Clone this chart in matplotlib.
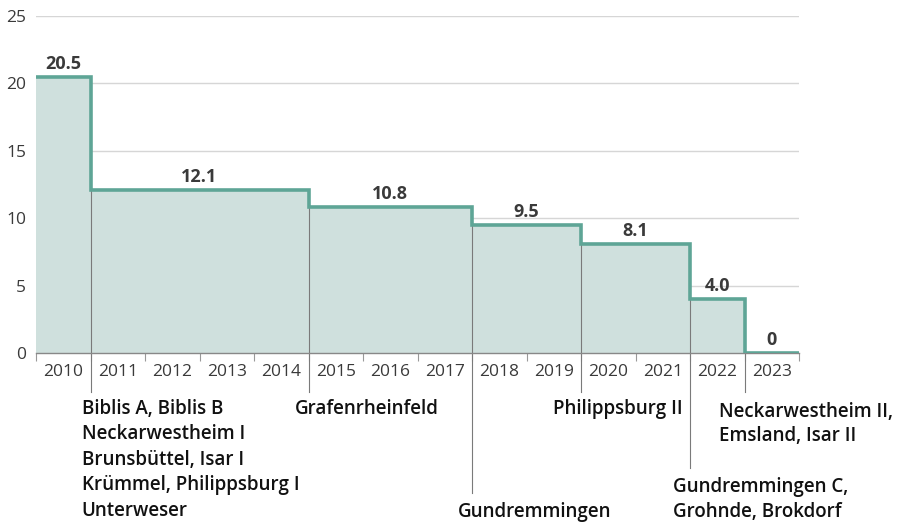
#!/usr/bin/env python3
# Step chart: Germany's nuclear power capacity (GW) by year, with shutdowns
import numpy as np
import matplotlib
matplotlib.use('Agg')
import matplotlib.pyplot as plt

plt.rcParams['font.family'] = ['Open Sans', 'DejaVu Sans']

# data
years = [2010, 2011, 2012, 2013, 2014, 2015, 2016, 2017, 2018, 2019, 2020, 2021, 2022, 2023]
capacity = [20.5, 12.1, 12.1, 12.1, 12.1, 10.8, 10.8, 10.8, 9.5, 9.5, 8.1, 8.1, 4.0, 0]
step_years = [2011, 2015, 2018, 2020, 2022, 2023]
step_labels = ['20.5', '12.1', '10.8', '9.5', '8.1', '4.0', '0']
shutdowns = [
    'Biblis A, Biblis B\nNeckarwestheim I\nBrunsbüttel, Isar I\nKrümmel, Philippsburg I\nUnterweser',
    'Grafenrheinfeld',
    'Gundremmingen',
    'Philippsburg II',
    'Gundremmingen C,\nGrohnde, Brokdorf',
    'Neckarwestheim II,\nEmsland, Isar II',
]
y_ticks = [0, 5, 10, 15, 20, 25]

LINE = '#5ea596'
FILL = '#cfe0dd'
GRID = '#d6d6d6'
TXT = '#3a3a3a'

W, H = 899, 527
fig = plt.figure(figsize=(W / 100, H / 100), dpi=100)
ax = fig.add_axes([36 / W, (H - 353) / H, (799 - 36) / W, (353 - 16) / H])

edges = np.append(years, years[-1] + 1)
ax.set_xlim(edges[0], edges[-1])
ax.set_ylim(0, 25)

# gridlines behind the area
for y in y_ticks[1:]:
    ax.axhline(y, color=GRID, lw=1, zorder=0)

ax.stairs(capacity, edges, fill=True, color=FILL, baseline=0, zorder=1)
ax.stairs(capacity, edges, baseline=None, color=LINE, lw=2.6, zorder=3)

# px -> data units on the y axis
per_px = 25 / (353 - 16)

# thin separator lines at each step, running down to the annotation
line_ends = [392, 392, 493, 392, 468, 392]
for yr, end in zip(step_years, line_ends):
    top = capacity[years.index(yr)]
    ax.plot([yr, yr], [top, -(end - 353) * per_px], color='#7a7a7a', lw=0.8,
            clip_on=False, zorder=2)

# value labels centred on each segment
seg_edges = [years[0]] + step_years + [edges[-1]]
for i, lab in enumerate(step_labels):
    xc = (seg_edges[i] + seg_edges[i + 1]) / 2
    val = capacity[years.index(seg_edges[i])]
    ax.text(xc, val + 13 * per_px, lab, ha='center', va='center', fontsize=13,
            fontweight='bold', color=TXT)

# shutdown annotations: (x, top pixel, ha, line spacing)
ann_pos = [(2010.84, 399, 'left', 1.36), (2014.75, 399, 'left', 1.3),
           (2017.74, 502, 'left', 1.3), (2021.87, 399, 'right', 1.3),
           (2021.69, 477, 'left', 1.3), (2022.53, 402, 'left', 1.3)]
for txt, (x, py, ha, ls) in zip(shutdowns, ann_pos):
    ax.text(x, -(py - 353) * per_px, txt, ha=ha, va='top', fontsize=13.5,
            fontweight='semibold', color='#111111', linespacing=ls, clip_on=False)

# axes styling
for s in ['top', 'right', 'left']:
    ax.spines[s].set_visible(False)
ax.spines['bottom'].set_color('#888888')
ax.spines['bottom'].set_linewidth(1)
ax.spines['bottom'].set_zorder(2)

ax.set_yticks(y_ticks)
ax.tick_params(axis='y', length=0, pad=7, labelsize=12.5, labelcolor=TXT)

ax.set_xticks(np.array(years) + 0.5)
ax.set_xticklabels([str(y) for y in years])
ax.set_xticks(edges, minor=True)
ax.tick_params(axis='x', which='major', length=0, pad=8, labelsize=12.5, labelcolor=TXT)
ax.tick_params(axis='x', which='minor', length=6, width=0.8, color='#999999', direction='out')

fig.savefig('out.png', dpi=100, facecolor='white')
